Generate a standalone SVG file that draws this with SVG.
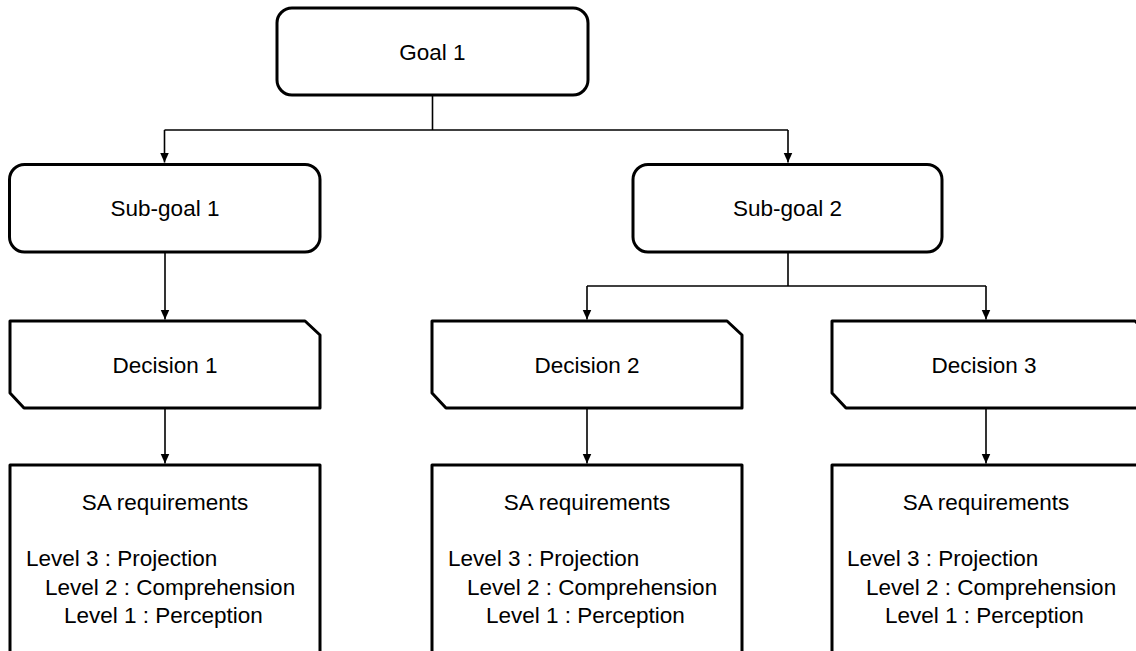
<svg xmlns="http://www.w3.org/2000/svg" width="1136" height="651" viewBox="0 0 1136 651">
  <style>
    .box { fill: #ffffff; stroke: #000000; stroke-width: 3; stroke-linejoin: round; }
    .wire { fill: none; stroke: #000000; stroke-width: 1.6; }
    .lbl { font-family: "Liberation Sans", Arial, sans-serif; font-size: 22.5px; fill: #000000; }
    .mid { text-anchor: middle; }
  </style>
  <defs>
    <marker id="arrow" markerUnits="userSpaceOnUse" markerWidth="10" markerHeight="12" viewBox="0 0 10 12" refX="10" refY="6" orient="auto">
      <path d="M0,1.5 L10,6 L0,10.5 Z" fill="#000000"/>
    </marker>
  </defs>
  <rect width="1136" height="651" fill="#ffffff"/>

  <!-- connectors -->
  <g id="connectors">
    <path class="wire" d="M432.5,95 V130"/>
    <path class="wire" d="M164.5,130 H788"/>
    <path class="wire" d="M164.5,130 V162.5" marker-end="url(#arrow)"/>
    <path class="wire" d="M788,130 V162.5" marker-end="url(#arrow)"/>
    <path class="wire" d="M165,252 V319.5" marker-end="url(#arrow)"/>
    <path class="wire" d="M788,252 V286"/>
    <path class="wire" d="M587,286 H986"/>
    <path class="wire" d="M587,286 V319.5" marker-end="url(#arrow)"/>
    <path class="wire" d="M986,286 V319.5" marker-end="url(#arrow)"/>
    <path class="wire" d="M165,408 V463.5" marker-end="url(#arrow)"/>
    <path class="wire" d="M587,408 V463.5" marker-end="url(#arrow)"/>
    <path class="wire" d="M986,408 V463.5" marker-end="url(#arrow)"/>
  </g>

  <!-- goal -->
  <g id="goal1">
    <rect class="box" x="277" y="8" width="311" height="87" rx="15"/>
    <text class="lbl mid" x="432.5" y="60">Goal 1</text>
  </g>

  <!-- sub-goals -->
  <g id="subgoal1">
    <rect class="box" x="9.5" y="164.5" width="310.5" height="87.5" rx="15"/>
    <text class="lbl mid" x="165" y="216">Sub-goal 1</text>
  </g>
  <g id="subgoal2">
    <rect class="box" x="633" y="164.5" width="309" height="87.5" rx="15"/>
    <text class="lbl mid" x="787.5" y="216">Sub-goal 2</text>
  </g>

  <!-- decisions -->
  <g id="decision1">
    <path class="box" d="M10,321 H305 L320,335 V408 H24 L10,393 Z"/>
    <text class="lbl mid" x="165" y="373">Decision 1</text>
  </g>
  <g id="decision2">
    <path class="box" d="M432,321 H727 L742,335 V408 H446 L432,393 Z"/>
    <text class="lbl mid" x="587" y="373">Decision 2</text>
  </g>
  <g id="decision3">
    <path class="box" d="M832,321 H1135 L1150,335 V408 H846 L832,393 Z"/>
    <text class="lbl mid" x="984" y="373">Decision 3</text>
  </g>

  <!-- SA requirement panels (run past the lower edge) -->
  <g id="sa1">
    <path class="box" d="M10,660 V465 H320 V660"/>
    <text class="lbl mid" x="165" y="510">SA requirements</text>
    <text class="lbl" x="26" y="566">Level 3 : Projection</text>
    <text class="lbl" x="45" y="595">Level 2 : Comprehension</text>
    <text class="lbl" x="64" y="623">Level 1 : Perception</text>
  </g>
  <g id="sa2">
    <path class="box" d="M432,660 V465 H742 V660"/>
    <text class="lbl mid" x="587" y="510">SA requirements</text>
    <text class="lbl" x="448" y="566">Level 3 : Projection</text>
    <text class="lbl" x="467" y="595">Level 2 : Comprehension</text>
    <text class="lbl" x="486" y="623">Level 1 : Perception</text>
  </g>
  <g id="sa3">
    <path class="box" d="M832,660 V465 H1150 V660"/>
    <text class="lbl mid" x="986" y="510">SA requirements</text>
    <text class="lbl" x="847" y="566">Level 3 : Projection</text>
    <text class="lbl" x="866" y="595">Level 2 : Comprehension</text>
    <text class="lbl" x="885" y="623">Level 1 : Perception</text>
  </g>
</svg>
